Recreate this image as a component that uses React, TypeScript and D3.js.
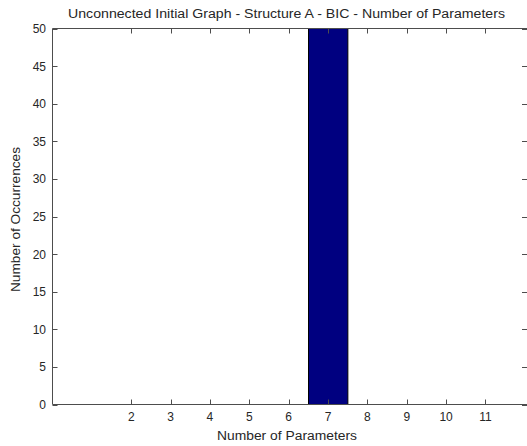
import React from 'react';
import * as d3 from 'd3';

const binCenters = [2, 3, 4, 5, 6, 7, 8, 9, 10, 11];
const occurrences = [0, 0, 0, 0, 0, 50, 0, 0, 0, 0];
const xTicks = [2, 3, 4, 5, 6, 7, 8, 9, 10, 11];
const yTicks = [0, 5, 10, 15, 20, 25, 30, 35, 40, 45, 50];

const W = 527;
const H = 446;
const plot = { left: 52.5, right: 528, top: 28.5, bottom: 404.5 };
const font = 'Arial, "Liberation Sans", Helvetica, sans-serif';
const axisColor = '#4d4d4d';
const textColor = '#262626';

export default function App() {
  const x = d3.scaleLinear().domain([0, 12.08]).range([plot.left, plot.right]);
  const y = d3.scaleLinear().domain([0, 50]).range([plot.bottom, plot.top]);
  const tick = 5;

  return (
    <svg width={W} height={H} style={{ position: 'absolute', left: 0, top: 0, background: '#fff' }}>
      <rect x={plot.left} y={plot.top} width={plot.right - plot.left} height={plot.bottom - plot.top} fill="#fff" />
      {binCenters.map((c, i) =>
        occurrences[i] > 0 ? (
          <rect
            key={c}
            x={Math.round(x(c - 0.5)) + 0.5}
            y={y(occurrences[i])}
            width={x(c + 0.5) - x(c - 0.5)}
            height={y(0) - y(occurrences[i])}
            fill="#000080"
            stroke="#000"
            strokeWidth={1}
          />
        ) : null
      )}
      {/* box */}
      <line x1={plot.left} x2={plot.right} y1={plot.bottom} y2={plot.bottom} stroke={axisColor} />
      <line x1={plot.left} x2={plot.right} y1={plot.top} y2={plot.top} stroke={axisColor} />
      <line x1={plot.left} x2={plot.left} y1={plot.top} y2={plot.bottom} stroke={axisColor} />
      {xTicks.map(t => (
        <g key={'x' + t}>
          <line x1={Math.round(x(t)) + 0.5} x2={Math.round(x(t)) + 0.5} y1={plot.bottom} y2={plot.bottom - tick} stroke={axisColor} />
          <line x1={Math.round(x(t)) + 0.5} x2={Math.round(x(t)) + 0.5} y1={plot.top} y2={plot.top + tick} stroke={axisColor} />
          <text x={x(t)} y={420.5} textAnchor="middle" fontFamily={font} fontSize={12} fill={textColor}>
            {t}
          </text>
        </g>
      ))}
      {yTicks.map(t => (
        <g key={'y' + t}>
          <line x1={plot.left} x2={plot.left + tick} y1={Math.round(y(t)) + 0.5} y2={Math.round(y(t)) + 0.5} stroke={axisColor} />
          <line x1={522} x2={plot.right} y1={Math.round(y(t)) + 0.5} y2={Math.round(y(t)) + 0.5} stroke={axisColor} />
          <text x={46} y={y(t) + 4.5} textAnchor="end" fontFamily={font} fontSize={12} fill={textColor}>
            {t}
          </text>
        </g>
      ))}
      <text x={68} y={17.5} textLength={437} lengthAdjust="spacingAndGlyphs" fontFamily={font} fontSize={12.5} fill={textColor}>
        Unconnected Initial Graph - Structure A - BIC - Number of Parameters
      </text>
      <text x={217} y={439.5} textLength={140} lengthAdjust="spacingAndGlyphs" fontFamily={font} fontSize={12.5} fill={textColor}>
        Number of Parameters
      </text>
      <text
        transform={`translate(20, 292) rotate(-90)`}
        textLength={145}
        lengthAdjust="spacingAndGlyphs"
        fontFamily={font}
        fontSize={12.5}
        fill={textColor}
      >
        Number of Occurrences
      </text>
    </svg>
  );
}
